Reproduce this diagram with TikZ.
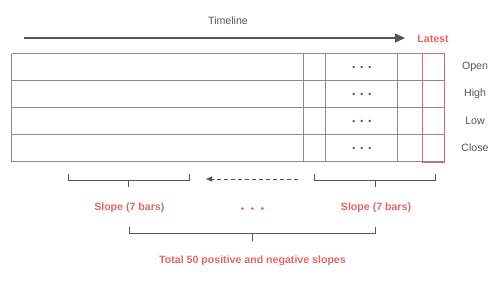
\documentclass[tikz,border=0pt]{standalone}
\usepackage{fontspec}
\setmainfont{Liberation Sans}
\usetikzlibrary{arrows.meta}
\definecolor{accent}{HTML}{E06666}
\definecolor{ink}{HTML}{555555}
\definecolor{grid}{HTML}{8C8C8C}
\tikzset{
  lbl/.style={font=\fontsize{10.6}{12}\selectfont, text=ink, inner sep=0pt},
  redlbl/.style={font=\fontsize{10.6}{12}\selectfont\bfseries, text=accent, inner sep=0pt},
  gridline/.style={draw=grid, line width=0.8pt},
  bracket/.style={draw=ink, line width=0.9pt}
}
\begin{document}
\begin{tikzpicture}[x=1pt,y=-1pt]
\useasboundingbox (0,0) rectangle (500,282);
% timeline
\node[lbl] (tl) at (228,21) {Timeline};
\coordinate (ta) at (23.5,38);
\coordinate (tb) at (405,38);
\draw[ink, line width=1.5pt, -{Triangle[length=10pt,width=9pt]}] (ta) -- (tb);
\node[redlbl] (latest) at (433,38.5) {Latest};
% table
\foreach \y in {53.5,80.5,107.5,134.5,161.5} \draw[gridline] (11.5,\y) -- (444,\y);
\foreach \x in {11.5,303,325.5,397,444} \draw[gridline] (\x,53.5) -- (\x,161.5);
\draw[accent, line width=1pt] (422,53.5) rectangle (444,162);
% dots and labels
\foreach \y/\t/\n in {67/Open/o,94/High/h,121/Low/l,148/Close/c}{
  \foreach \dx in {-8,0,8} \fill[ink] (361.7+\dx,\y) circle (1.3);
  \node[lbl] (r\n) at (475,\y) {\t};
}
% small brackets
\draw[bracket] (68.7,173.5) -- (68.7,180) -- (189.7,180) -- (189.7,173.5);
\coordinate (lb) at (128.7,180);
\coordinate (lbt) at (128.7,187);
\draw[bracket] (lb) -- (lbt);
\draw[bracket] (314.7,173.5) -- (314.7,180) -- (435,180) -- (435,173.5);
\coordinate (rb) at (375,180);
\coordinate (rbt) at (375,187);
\draw[bracket] (rb) -- (rbt);
% dashed arrow
\coordinate (da) at (298,179);
\coordinate (db) at (206,179);
\draw[ink, line width=0.9pt, dashed, dash pattern=on 4pt off 3pt, -{Triangle[length=6pt,width=5pt]}] (da) -- (db);
% slope labels
\node[redlbl] (s1) at (129.3,208) {Slope (7 bars)};
\node[redlbl] (s2) at (376,208) {Slope (7 bars)};
\foreach \dx in {-10,0,10} \fill[accent] (252.3+\dx,208.5) circle (1.5);
% big bracket
\draw[bracket] (129.3,226.7) -- (129.3,233.3) -- (375.7,233.3) -- (375.7,226.7);
\coordinate (bb) at (252.7,233.3);
\coordinate (bbt) at (252.7,240.5);
\draw[bracket] (bb) -- (bbt);
\node[redlbl] (total) at (252.5,260.5) {Total 50 positive and negative slopes};
\end{tikzpicture}
\end{document}
